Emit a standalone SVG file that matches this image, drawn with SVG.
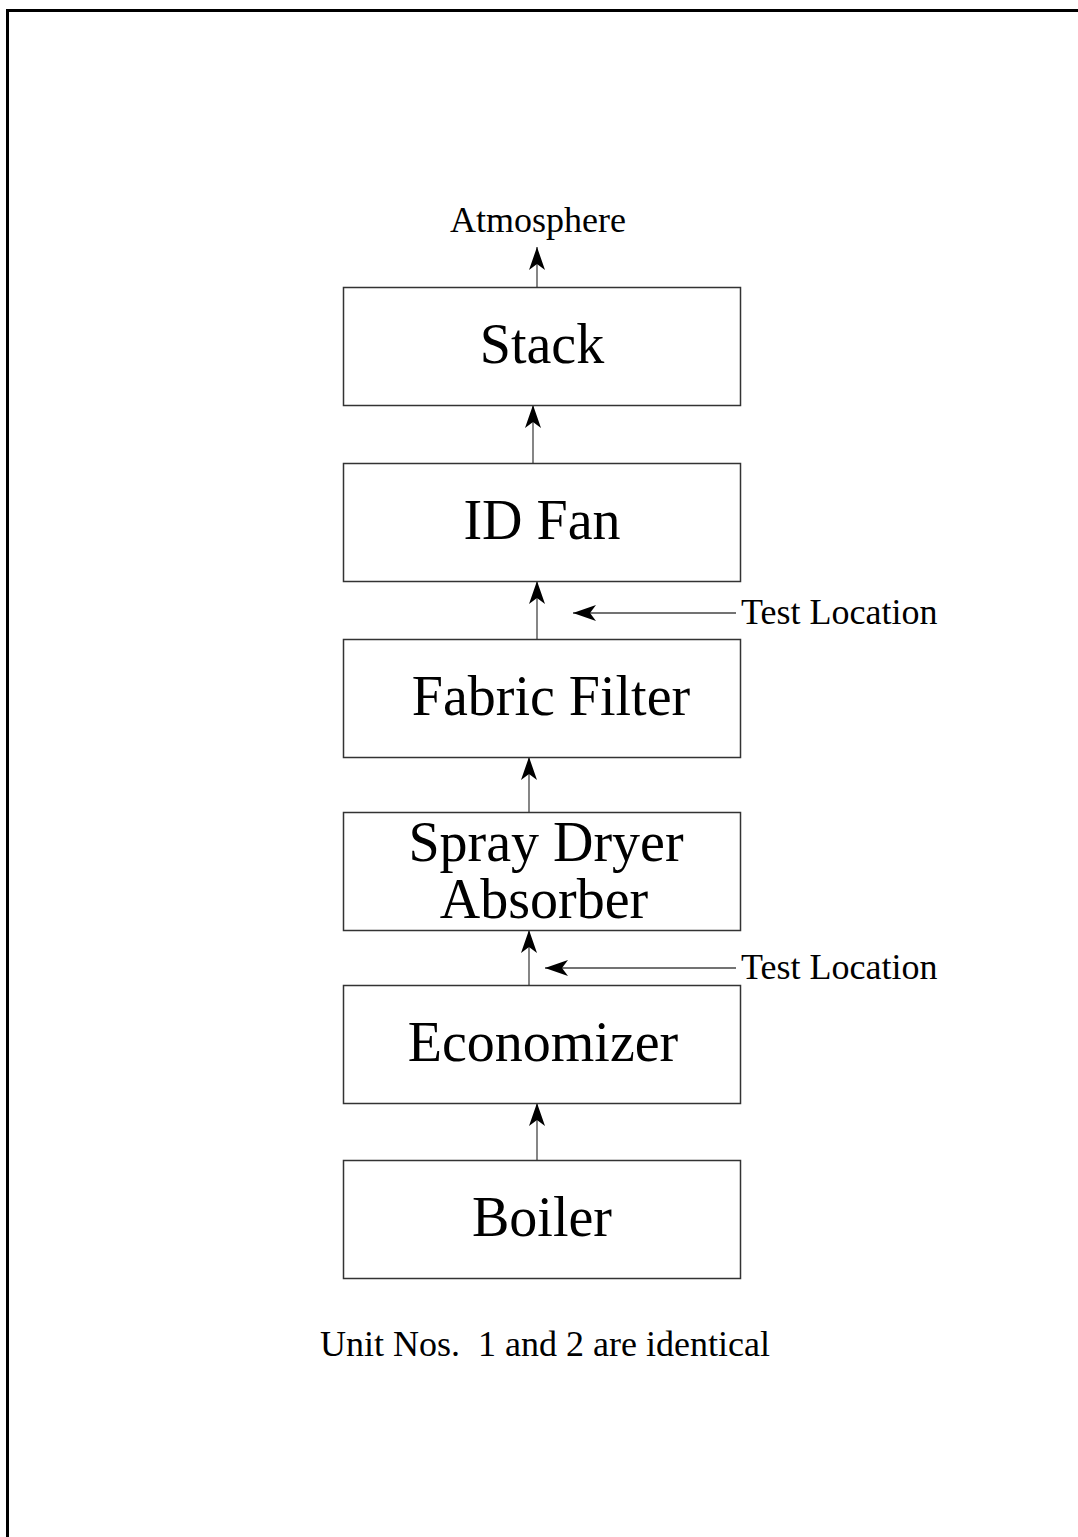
<svg xmlns="http://www.w3.org/2000/svg" width="1078" height="1537" viewBox="0 0 1078 1537">
<style>
.box{fill:#fff;stroke:#333;stroke-width:1.5}
.big{font-family:"Liberation Serif","Times New Roman",serif;font-size:56px;fill:#000;text-anchor:middle}
.sm{font-family:"Liberation Serif","Times New Roman",serif;font-size:36px;fill:#000}
.ln{stroke:#444;stroke-width:1.3;fill:none}
</style>
<defs>
<marker id="ah" viewBox="0 0 23 16" markerWidth="23" markerHeight="16" markerUnits="userSpaceOnUse" refX="23" refY="8" orient="auto">
<path d="M23,8 L0,0 L6,8 L0,16 Z" fill="#000"/>
</marker>
</defs>
<rect width="1078" height="1537" fill="#fff"/>
<g id="frame">
<path d="M7.5,1537 V10.5 H1078" stroke="#000" stroke-width="3" fill="none"/>
</g>
<g id="connectors">
<line class="ln" x1="537" y1="287" x2="537" y2="247" marker-end="url(#ah)"/>
<line class="ln" x1="533" y1="463" x2="533" y2="405" marker-end="url(#ah)"/>
<line class="ln" x1="537" y1="639" x2="537" y2="581" marker-end="url(#ah)"/>
<line class="ln" x1="529" y1="812" x2="529" y2="757" marker-end="url(#ah)"/>
<line class="ln" x1="529" y1="985" x2="529" y2="930" marker-end="url(#ah)"/>
<line class="ln" x1="537" y1="1160" x2="537" y2="1103" marker-end="url(#ah)"/>
<line class="ln" x1="736" y1="613" x2="573" y2="613" marker-end="url(#ah)"/>
<line class="ln" x1="736" y1="968" x2="545" y2="968" marker-end="url(#ah)"/>
</g>
<g id="stack"><rect class="box" x="343.5" y="287.5" width="397" height="118"/><text class="big" x="542" y="363">Stack</text></g>
<g id="idfan"><rect class="box" x="343.5" y="463.5" width="397" height="118"/><text class="big" x="542" y="539">ID Fan</text></g>
<g id="fabricfilter"><rect class="box" x="343.5" y="639.5" width="397" height="118"/><text class="big" x="551" y="715">Fabric Filter</text></g>
<g id="spraydryer"><rect class="box" x="343.5" y="812.5" width="397" height="118"/><text class="big" x="546" y="861">Spray Dryer</text><text class="big" x="544" y="918">Absorber</text></g>
<g id="economizer"><rect class="box" x="343.5" y="985.5" width="397" height="118"/><text class="big" x="543" y="1061">Economizer</text></g>
<g id="boiler"><rect class="box" x="343.5" y="1160.5" width="397" height="118"/><text class="big" x="542" y="1236">Boiler</text></g>
<g id="labels">
<text class="sm" x="538" y="232" text-anchor="middle">Atmosphere</text>
<text class="sm" x="741" y="624">Test Location</text>
<text class="sm" x="741" y="979">Test Location</text>
<text class="sm" x="320" y="1356" xml:space="preserve">Unit Nos.  1 and 2 are identical</text>
</g>
</svg>
